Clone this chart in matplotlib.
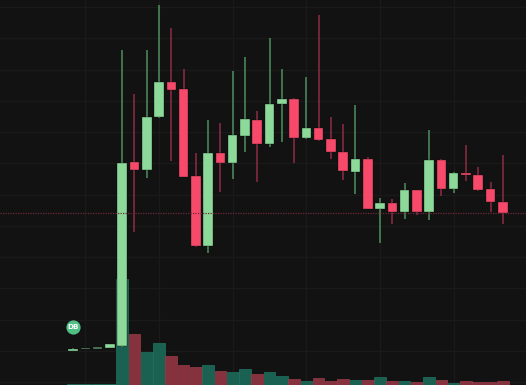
import matplotlib
matplotlib.use("Agg")
import matplotlib.pyplot as plt
import numpy as np

# Candles, price in picture units
index = list(range(-4, 32))
opens = [34, 36, 36, 36.7,
         39.3, 223, 215, 267.7, 302.7, 295.7, 209, 139, 232, 221.7, 249.3, 265.5,
         241, 280.7, 286, 247.3, 256.7, 245.7, 233.3, 213.3, 225.7, 176, 181.7, 173.3,
         195, 172.7, 225, 196, 212, 210, 195.7, 183.3]
closes = [36.3, 37.3, 38, 40.7,
          222.3, 215, 268.3, 302.7, 295, 208.3, 139, 232, 222, 250, 265.7, 241,
          281, 286, 247.3, 256.7, 245, 233, 213.7, 225.7, 176, 181.7, 173.3, 195,
          172.7, 225, 196, 212, 209.7, 195, 183, 172.3]
highs = [37.3, 37.3, 38, 40.7,
         335, 291, 335, 380, 357, 316, 232, 265, 262.3, 314, 328, 274.3,
         347, 316, 287.3, 307.7, 370.3, 267.7, 261, 280, 227.7, 187, 185.7, 201.7,
         195, 255, 226, 213, 240, 218.3, 203.3, 230]
lows = [34, 36, 36, 36.7,
        38, 153, 207, 267, 224.3, 208, 138, 132.3, 193.3, 206, 233, 203.3,
        238.3, 243, 222.3, 246.3, 244.3, 226, 205, 191, 176, 142.3, 160.7, 166.3,
        170.3, 165, 189.3, 191.7, 204.3, 194, 173, 161]
volumes = [1.3, 1.3, 1.3, 1.3,
           106, 50.7, 33.3, 41.7, 29.3, 19.7, 17.7, 20.3, 14, 13.3, 16, 10.7,
           12.7, 8.7, 5.7, 4.3, 7.3, 3.7, 5.7, 5, 5, 7.7, 3.7, 3.7,
           2.7, 8.3, 4.7, 2.3, 3.7, 2.7, 2.7, 3.7]
last_price = 172.3
badge_text = "DB"

BG = "#121212"
GRID = "#1a1a1a"
UP = "#8cd99a"
DOWN = "#f74a6b"
UP_WICK = "#4f8f5f"
DOWN_WICK = "#8f2c46"
UP_VOL = "#1a6152"
DOWN_VOL = "#85323e"

fig = plt.figure(figsize=(5.26, 3.85), dpi=100, facecolor=BG)
ax = fig.add_axes([0, 0, 1, 1], facecolor=BG)

# Candle 0 sits at x=122.2 px, spacing 12.277 px
step = 12.277
ax.set_xlim(-122.2 / step, (526 - 122.2) / step)
ax.set_ylim(0, 385)
ax.axis("off")

for v in np.arange(-3, 32, 6):
    ax.axvline(v, color=GRID, lw=0.9, zorder=1)
for h in np.arange(3, 385, 31.25):
    ax.axhline(h, color=GRID, lw=0.9, zorder=1)

is_up = [c >= o for o, c in zip(opens, closes)]

ax.bar(index, volumes, width=0.95, bottom=0,
       color=[UP_VOL if u else DOWN_VOL for u in is_up],
       edgecolor=["#1f7463" if u else "#9a3b49" for u in is_up],
       linewidth=0.5, zorder=2)

ax.vlines(index, lows, highs, colors=[UP_WICK if u else DOWN_WICK for u in is_up],
          linewidth=1.1, zorder=3)

bottoms = [min(o, c) for o, c in zip(opens, closes)]
heights = [abs(c - o) for o, c in zip(opens, closes)]
body_colors = [UP if u else DOWN for u in is_up]
body_colors[1] = "#5f9f6e"
body_colors[2] = "#55855f"
ax.bar(index, heights, width=0.78, bottom=bottoms, color=body_colors,
       edgecolor="#0c0c0c", linewidth=0.25, zorder=4)

ax.axhline(last_price, color="#6e2a38", lw=0.9, ls=(0, (1, 1)), zorder=5)

ax.scatter([index[0]], [58.3], s=105, color="#4fbf85", linewidths=0, zorder=6)
ax.text(index[0], 58.1, badge_text, color="white", fontsize=5.2, fontweight="bold",
        ha="center", va="center", zorder=7)

fig.savefig("out.png", dpi=100, facecolor=BG)
plt.close(fig)
